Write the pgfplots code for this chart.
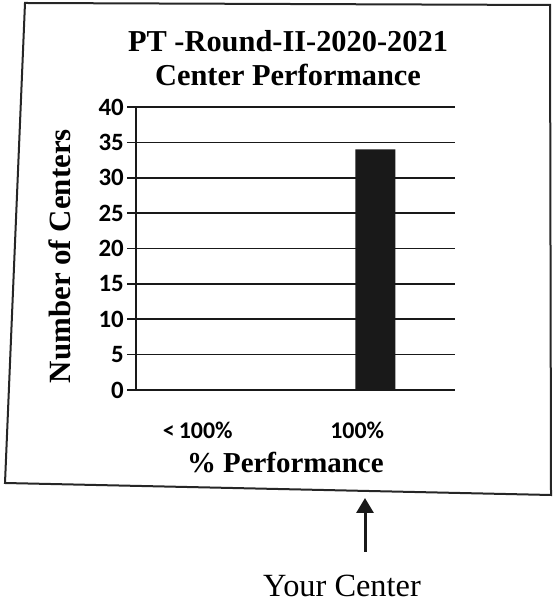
\documentclass[border=0pt]{standalone}
\usepackage{fontspec}
\setmainfont{Liberation Serif}
\newfontfamily\calib{Carlito}
\usepackage{pgfplots}
\pgfplotsset{compat=1.18}
\usetikzlibrary{arrows.meta}
\begin{document}
\begin{tikzpicture}[x=1bp,y=1bp]
\path[use as bounding box] (0,0) rectangle (554,605);
\draw[black!85, line width=2bp, line join=miter] (25,602) -- (550,600) -- (551,110) -- (5,122) -- cycle;
\begin{axis}[
  at={(136bp,215bp)}, anchor=south west,
  width=319bp, height=283bp, scale only axis,
  xmin=-0.5, xmax=1.5, ymin=0, ymax=40,
  xtick={0,1}, xticklabels={{<\,100\%},{100\%}},
  ytick={0,5,...,40},
  axis lines*=left,
  x axis line style={draw=none},
  y axis line style={black!90, line width=1.7bp},
  ymajorgrids,
  major grid style={black!90, line width=1.7bp},
  ytick style={black!90, line width=1.7bp},
  xtick style={draw=none},
  tick align=outside, major tick length=9bp,
  /pgf/number format/assume math mode=true,
  yticklabel style={font=\calib\bfseries\fontsize{25}{25}\selectfont, inner sep=1bp, xshift=-2bp},
  xticklabel style={font=\calib\bfseries\fontsize{24}{24}\selectfont, yshift=-19bp, xshift=-18bp},
  xlabel={\% Performance},
  xlabel style={font=\bfseries\fontsize{29}{29}\selectfont, at={(axis description cs:0.468,0)}, anchor=base, yshift=-83bp},
  ylabel={Number of Centers},
  ylabel style={font=\bfseries\fontsize{31}{31}\selectfont, at={(axis description cs:-0.238,0.473)}, anchor=center},
  ybar, bar width=40bp,
  clip=false,
]
\addplot[fill=black!90, draw=none] coordinates {(0,0) (1,34)};
\end{axis}
\node[font=\bfseries\fontsize{30.5}{30.5}\selectfont, anchor=base] at (288,553) {PT -Round-II-2020-2021};
\node[font=\bfseries\fontsize{30.5}{30.5}\selectfont, anchor=base] at (288,519) {Center Performance};
\draw[black!90, line width=3bp, -{Triangle[length=15bp,width=17bp]}] (365,53) -- (365,107);
\node[font=\fontsize{32.5}{32.5}\selectfont, anchor=base] at (342,8) {Your Center};
\end{tikzpicture}
\end{document}
